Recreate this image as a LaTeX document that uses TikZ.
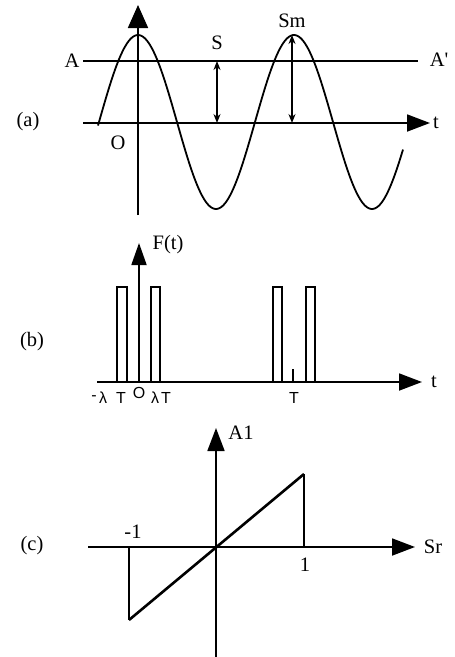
\documentclass[tikz,border=0pt]{standalone}
\usepackage{fontspec}
\setmainfont{Liberation Serif}
\newfontfamily\lblsans{Liberation Sans}
\usetikzlibrary{arrows.meta}
\begin{document}
\begin{tikzpicture}[x=1pt,y=-1pt,
  axis/.style={line width=1.8pt,-{Triangle[length=23pt,width=17pt]}},
  thin/.style={line width=1.5pt},
  curve/.style={line width=1.8pt},
  dbl/.style={line width=1.5pt,{Stealth[length=9pt,width=7pt]}-{Stealth[length=9pt,width=7pt]}},
  lbl/.style={inner sep=0pt,font=\fontsize{20.5}{24}\selectfont},
  sml/.style={inner sep=0pt,font=\lblsans\fontsize{16}{19}\selectfont}]
\useasboundingbox (0,0) rectangle (455,657);
% ---------- panel (a) ----------
\coordinate (aH0) at (83,123); \coordinate (aH1) at (430,123);
\coordinate (aV0) at (138,215); \coordinate (aV1) at (138,5);
\coordinate (aA0) at (83,61); \coordinate (aA1) at (418,61);
\draw[axis] (aH0) -- (aH1);
\draw[axis,-{Triangle[length=23pt,width=20pt]}] (aV0) -- (aV1);
\draw[thin] (aA0) -- (aA1);
\draw[curve,domain=98:403,samples=200,smooth] plot (\x,{122-87*cos(2.30769*(\x-138))});
\coordinate (sT) at (217,61); \coordinate (sB) at (217,123);
\draw[dbl] (sT) -- (sB);
\coordinate (smT) at (292,35); \coordinate (smB) at (292,123);
\draw[dbl] (smT) -- (smB);
\node[lbl] (labA) at (72,61) {A};
\node[lbl] (labAp) at (439,60) {A\textquotesingle};
\node[lbl] (labS) at (217,43) {S};
\node[lbl] (labSm) at (292,21) {Sm};
\node[lbl] (labt1) at (436,123) {t};
\node[lbl] (labO1) at (118,143) {O};
\node[lbl] (laba) at (28,122) {(a)};
% ---------- panel (b) ----------
\coordinate (bH0) at (97,382); \coordinate (bH1) at (422,382);
\coordinate (bV0) at (139,382); \coordinate (bV1) at (139,243);
\draw[axis] (bH0) -- (bH1);
\draw[axis,-{Triangle[length=22pt,width=15pt]}] (bV0) -- (bV1);
\foreach \a/\b in {117/127,151/160,273/282,306/315}{
  \draw[thin] (\a,382) -- (\a,287) -- (\b,287) -- (\b,382);
}
\coordinate (tk0) at (293,369); \coordinate (tk1) at (293,382);
\draw[thin] (tk0) -- (tk1);
\node[lbl] (labF) at (168,245) {F(t)};
\node[lbl] (labt2) at (434,382) {t};
\node[sml] (labmn) at (94,398) {-};
\node[sml] (labl1) at (103,398) {λ};
\node[sml] (labT1) at (121,398) {T};
\node[sml] (labO2) at (139,393) {O};
\node[sml] (labl2) at (155,398) {λ};
\node[sml] (labT2) at (166,398) {T};
\node[sml] (labT) at (294,398) {T};
\node[lbl] (labb) at (32,342) {(b)};
% ---------- panel (c) ----------
\coordinate (cH0) at (88,547); \coordinate (cH1) at (415,547);
\coordinate (cV0) at (216,657); \coordinate (cV1) at (216,428);
\draw[axis] (cH0) -- (cH1);
\draw[axis] (cV0) -- (cV1);
\coordinate (p0) at (129,620); \coordinate (p1) at (304,474);
\coordinate (q0) at (129,547); \coordinate (q1) at (304,547);
\draw[line width=2.6pt] (p0) -- (p1);
\draw[thin] (p1) -- (q1);
\draw[thin] (q0) -- (p0);
\node[lbl] (labA1) at (241,433) {A1};
\node[lbl] (labSr) at (433,547) {Sr};
\node[lbl] (labm1) at (133,532) {-1};
\node[lbl] (lab1) at (305,565) {1};
\node[lbl] (labc) at (32,546) {(c)};
\end{tikzpicture}
\end{document}
